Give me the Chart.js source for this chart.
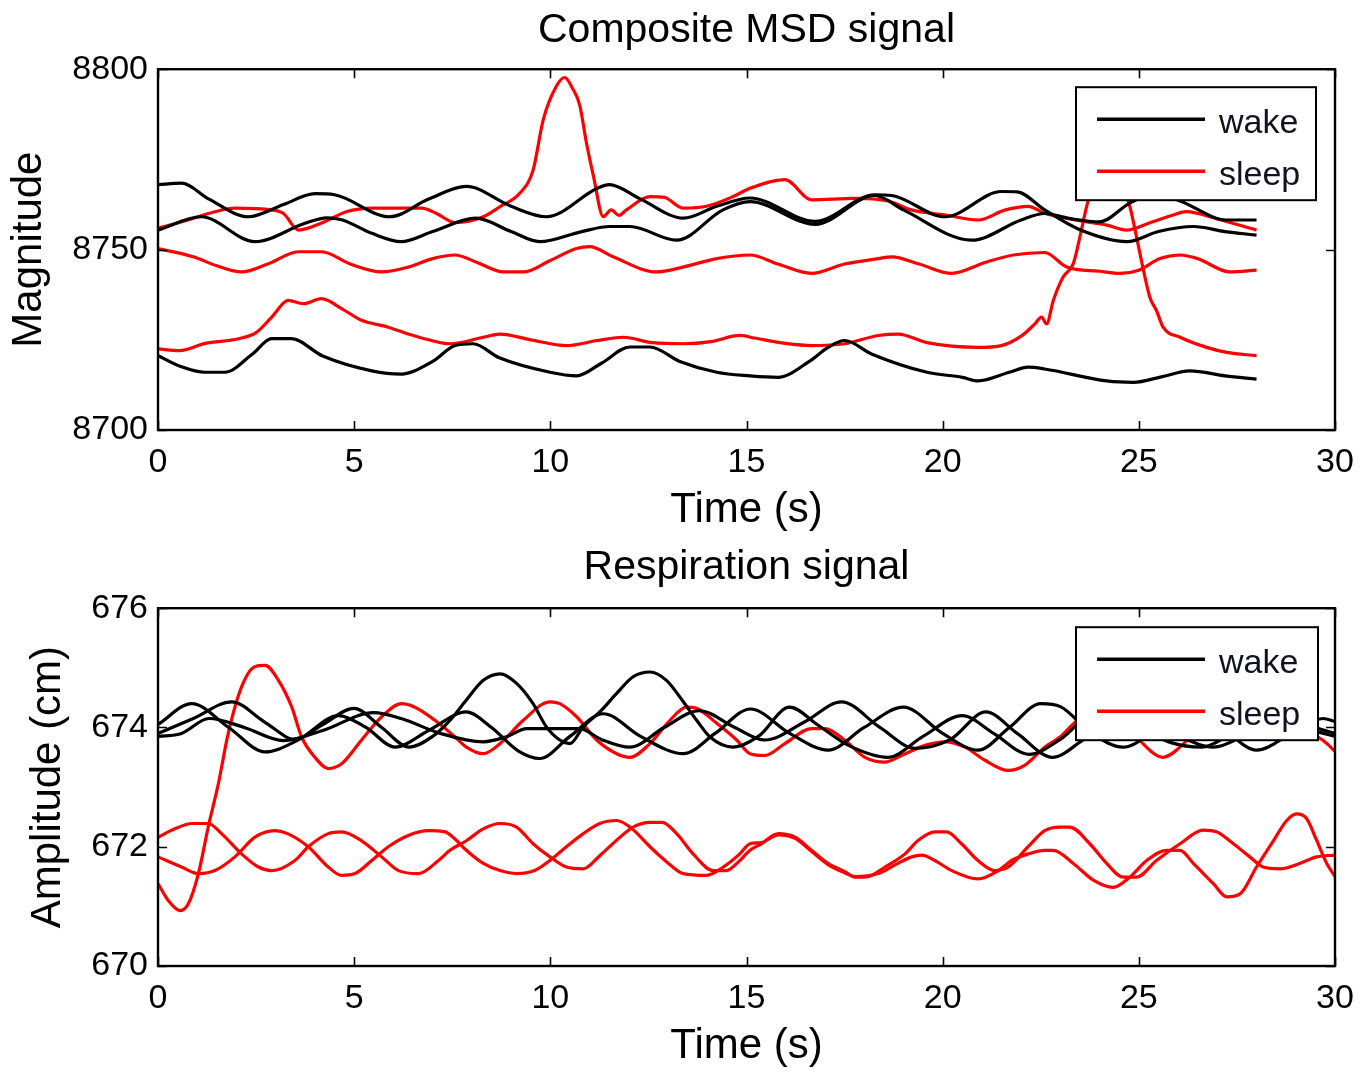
<!DOCTYPE html>
<html><head><meta charset="utf-8">
<script src="https://cdn.jsdelivr.net/npm/chart.js@4.4.1/dist/chart.umd.min.js"></script>
<style>
html,body{margin:0;padding:0;background:#fff;}
#wrap{position:relative;width:1371px;height:1076px;background:#fff;}
.box{position:absolute;left:0;width:1371px;}
</style></head><body>
<div id="wrap">
<div class="box" style="top:0;height:540px"><canvas id="c1" width="1371" height="540"></canvas></div>
<div class="box" style="top:540px;height:536px"><canvas id="c2" width="1371" height="536"></canvas></div>
</div>
<script>
// ---------- data ----------
const timeTicks = [0, 5, 10, 15, 20, 25, 30];
const msdTicks = [8700, 8750, 8800];
const respTicks = [670, 672, 674, 676];
const legendLabels = ['wake', 'sleep'];
const titles = ['Composite MSD signal', 'Respiration signal'];
const axisTitles = ['Time (s)', 'Magnitude', 'Amplitude (cm)'];

// Composite MSD signal: [time (s), magnitude]
const msdWake1 = [[0,8768],[0.6,8768.4],[1.3,8764],[2.3,8759.1],[3.2,8762.5],[4.0,8765.5],[4.5,8765.2],[5.9,8759.1],[6.9,8764],[7.86,8767.5],[9.0,8762],[9.9,8759.1],[11.2,8767],[11.5,8768],[12.3,8764],[13.39,8758.7],[14.24,8762],[15.09,8764.3],[16.75,8757.8],[18.27,8765.2],[18.7,8765],[20.06,8759.1],[21.5,8766.1],[21.9,8766],[22.6,8761],[23.5,8755.5],[24.7,8752.2],[25.5,8755],[26.39,8756.4],[27.2,8755],[28,8754]];
const msdWake2 = [[0,8755.4],[1.1,8759.1],[2.47,8752.2],[3.75,8757.3],[4.3,8758.8],[4.7,8758.2],[5.45,8754.5],[6.2,8752.2],[7.0,8755],[8.1,8758.7],[9.0,8755],[9.73,8752.2],[10.8,8755],[11.52,8756.4],[12.03,8756.4],[13.22,8752.6],[14.4,8761],[15.09,8763.3],[16.75,8757],[18.27,8765],[19.0,8761],[20.74,8752.6],[22.0,8758.2],[22.6,8760],[23.3,8758.5],[24.0,8757.7],[24.77,8762.9],[25.4,8765.5],[26.05,8763.5],[27.24,8758.2],[28,8758.2]];
const msdWake3 = [[0,8720.6],[0.6,8717.5],[1.2,8716],[1.7,8716],[2.4,8721],[2.9,8725.3],[3.4,8725.3],[4.2,8720.5],[5.45,8716.4],[6.2,8715.5],[7.0,8719],[7.57,8723.4],[8.03,8723.9],[8.7,8720],[9.99,8716],[10.67,8715],[11.3,8718.5],[12.03,8723],[12.54,8723],[13.3,8719],[14.24,8716],[15.09,8715],[15.8,8714.6],[16.6,8719],[17.08,8722.9],[17.5,8724.8],[18.2,8721],[19.6,8716],[20.5,8714.6],[20.9,8713.6],[21.7,8716],[22.18,8717.4],[22.6,8716.9],[24.18,8713.6],[24.86,8713.2],[25.6,8714.8],[26.3,8716.4],[27.2,8715],[28,8714.1]];
const msdSleep1 = [[0,8755.9],[0.7,8758],[1.45,8760.5],[1.96,8761.5],[2.9,8761],[3.2,8760],[3.58,8755.4],[4.2,8757.5],[4.8,8760.5],[5.45,8761.5],[6.72,8761.5],[7.1,8760],[7.57,8757.5],[8.29,8759.1],[8.72,8761.9],[9.22,8765.6],[9.56,8772],[9.82,8786],[10.16,8795.4],[10.37,8797.7],[10.55,8795],[10.75,8790],[10.92,8779.6],[11.1,8770.3],[11.35,8759.1],[11.55,8761],[11.75,8759.5],[11.94,8761],[12.54,8764.7],[12.9,8764.5],[13.39,8761.5],[13.98,8762],[14.66,8764.7],[15.09,8767],[15.98,8769.4],[16.66,8763.8],[17.76,8764.2],[18.6,8763.5],[19.2,8761],[20.06,8759.6],[20.9,8758.2],[21.6,8761],[22.18,8762],[22.6,8760.1],[23.5,8758],[24.18,8756.8],[24.69,8755.4],[25.3,8757.5],[25.88,8759.6],[26.2,8760.5],[27.0,8758.5],[28,8755.4]];
const msdSleep2 = [[0,8750.3],[0.9,8748],[1.5,8745.5],[2.13,8743.8],[2.8,8746],[3.58,8749.4],[4.17,8749.4],[4.9,8746],[5.7,8743.8],[6.4,8745.2],[7.0,8747.5],[7.57,8748.5],[8.12,8746.5],[8.8,8743.8],[9.31,8743.8],[10.0,8747],[10.67,8750.3],[11.0,8750.8],[11.6,8748],[12.7,8743.8],[13.4,8745.2],[14.24,8747.5],[15.09,8748.5],[15.8,8746],[16.66,8743.4],[17.5,8746],[18.36,8747.5],[18.7,8748],[19.4,8746],[20.23,8743.4],[21.1,8746.5],[21.8,8748.5],[22.6,8749.2],[23.16,8745.2],[24.0,8744],[24.52,8743.4],[25.0,8744.3],[25.54,8747.5],[26.05,8748.5],[26.5,8747.5],[27.32,8743.8],[28,8744.3]];
const msdSleep3 = [[0,8722.5],[0.55,8722],[1.2,8724],[2.05,8725.3],[2.5,8727],[2.9,8731.3],[3.32,8735.9],[3.7,8735],[4.17,8736.4],[4.7,8733.5],[5.19,8730.4],[5.87,8728.5],[6.38,8726.6],[6.9,8725],[7.44,8723.9],[8.29,8725.7],[8.72,8726.6],[9.5,8725],[10.41,8723.4],[11.2,8724.8],[11.86,8725.7],[12.6,8724.2],[13.39,8723.9],[14.1,8724.5],[14.83,8726.2],[15.2,8725.5],[16.0,8724],[16.66,8723.4],[17.5,8723.9],[18.36,8726.2],[18.87,8726.6],[19.6,8724.2],[20.9,8722.9],[21.5,8723.4],[22.0,8726],[22.35,8729.4],[22.52,8731.3],[22.65,8729.4],[22.82,8735.9],[23.07,8742.4],[23.33,8746.1],[23.5,8753.6],[23.67,8762],[23.9,8770],[24.2,8774],[24.5,8770],[24.77,8762],[24.94,8753.6],[25.1,8745.2],[25.28,8736.8],[25.45,8733.1],[25.62,8728.5],[26.05,8725.7],[26.73,8722.9],[27.24,8721.5],[28,8720.6]];

// Respiration signal: [time (s), amplitude (cm)]
const respWake1 = [[0,673.9],[0.9,674.15],[1.88,674.43],[2.7,674.1],[3.5,673.8],[4.2,674.05],[5.0,674.32],[5.7,674.0],[6.4,673.67],[7.0,673.85],[7.44,674.12],[7.86,674.46],[8.29,674.79],[8.72,674.9],[9.14,674.74],[9.56,674.4],[9.9,674.01],[10.24,673.79],[10.5,673.73],[10.84,674.01],[11.26,674.26],[11.69,674.57],[12.11,674.85],[12.54,674.93],[12.96,674.79],[13.39,674.43],[13.73,674.12],[14.07,673.84],[14.66,673.67],[15.3,673.85],[16.1,674.34],[16.8,674.05],[17.6,673.7],[18.6,673.5],[19.5,673.85],[20.5,674.2],[21.3,673.9],[22.2,673.55],[23.0,673.8],[24.0,674.3],[25.0,674.0],[25.8,673.75],[26.6,673.67],[27.4,673.9],[28.5,674.2],[29.2,674.0],[30,673.85]];
const respWake2 = [[0,674.05],[0.86,674.4],[1.8,674.0],[2.73,673.59],[3.6,673.8],[4.6,674.2],[5.3,674.0],[6.04,673.67],[6.9,673.95],[7.86,674.26],[8.5,674.0],[9.2,673.6],[9.73,673.48],[10.5,673.85],[11.35,674.23],[12.3,673.85],[13.39,673.56],[14.2,673.9],[15.1,674.31],[16.1,673.9],[17.08,673.62],[18.0,674.0],[19.0,674.34],[20.0,673.9],[20.9,673.62],[21.7,674.0],[22.5,674.4],[23.0,674.35],[23.8,673.9],[24.6,673.67],[25.5,674.0],[26.3,674.35],[27.2,673.95],[28.0,673.62],[28.9,673.9],[29.7,674.15],[30,674.1]];
const respWake3 = [[0,673.85],[0.6,673.9],[1.3,674.15],[2.2,674.0],[3.2,673.78],[4.2,673.95],[5.5,674.25],[6.2,674.15],[7.2,673.9],[8.29,673.76],[8.9,673.85],[9.4,673.98],[10.75,673.98],[11.3,673.8],[12.03,673.67],[12.9,674.0],[13.8,674.28],[14.7,674.0],[15.47,673.79],[16.5,674.1],[17.42,674.43],[18.4,674.0],[19.3,673.65],[20.2,673.8],[21.1,674.26],[21.9,673.9],[22.8,673.5],[23.6,673.8],[24.8,674.3],[25.9,673.9],[26.9,673.67],[27.8,673.9],[28.8,674.2],[29.5,674.0],[30,673.9]];
const respSleep1 = [[0,671.38],[0.26,671.1],[0.56,670.93],[0.77,671.04],[1.03,671.55],[1.28,672.33],[1.54,673.06],[1.79,673.9],[2.13,674.68],[2.47,675.02],[2.73,675.04],[3.07,674.79],[3.41,674.34],[3.66,673.84],[4.0,673.5],[4.34,673.31],[4.68,673.39],[5.19,673.79],[5.7,674.18],[6.21,674.4],[6.55,674.34],[7.06,674.12],[7.57,673.84],[7.86,673.67],[8.29,673.56],[8.72,673.73],[9.31,674.12],[9.99,674.43],[10.24,674.4],[10.67,674.18],[11.18,673.79],[11.69,673.56],[12.03,673.5],[12.54,673.73],[13.05,674.12],[13.47,674.34],[13.73,674.32],[14.24,674.07],[14.75,673.79],[15.09,673.56],[15.47,673.53],[15.98,673.73],[16.66,673.98],[17.0,673.98],[17.5,673.79],[18.02,673.5],[18.53,673.42],[18.95,673.53],[19.55,673.7],[20.06,673.76],[20.57,673.67],[21.08,673.45],[21.67,673.28],[22.1,673.37],[22.6,673.67],[22.99,673.84],[23.33,674.06],[23.9,674.35],[24.5,674.2],[25.0,673.8],[25.62,673.5],[26.1,673.7],[26.6,674.05],[27.4,674.3],[28.2,674.3],[29.0,674.05],[29.7,673.78],[30,673.6]];
const respSleep2 = [[0,672.16],[0.43,672.3],[0.86,672.39],[1.28,672.39],[1.62,672.22],[2.13,671.88],[2.56,671.66],[2.9,671.6],[3.49,671.77],[3.83,672.0],[4.34,672.22],[4.68,672.25],[5.19,672.1],[5.7,671.83],[6.13,671.6],[6.64,671.55],[7.15,671.77],[7.44,671.94],[7.86,672.1],[8.29,672.3],[8.72,672.39],[9.14,672.33],[9.56,672.05],[9.99,671.83],[10.41,671.66],[10.84,671.63],[11.26,671.85],[11.69,672.11],[12.11,672.33],[12.54,672.41],[12.85,672.41],[13.22,672.22],[13.64,671.88],[14.15,671.6],[14.49,671.6],[14.8,671.75],[15.09,671.94],[15.38,672.05],[15.81,672.22],[16.24,672.16],[16.66,671.94],[17.08,671.72],[17.51,671.58],[17.76,671.49],[18.1,671.5],[18.53,671.66],[19.04,671.88],[19.38,672.11],[19.8,672.25],[20.1,672.25],[20.48,672.05],[20.9,671.77],[21.33,671.6],[21.67,671.66],[22.18,672.0],[22.6,672.27],[22.99,672.33],[23.24,672.33],[23.75,672.05],[24.18,671.72],[24.6,671.49],[24.94,671.49],[25.45,671.77],[26.05,672.05],[26.64,672.28],[26.98,672.25],[27.41,672.05],[27.83,671.83],[28.17,671.66],[28.6,671.63],[29.1,671.72],[29.53,671.83],[30,671.86]];
const respSleep3 = [[0,671.83],[0.6,671.66],[1.03,671.55],[1.45,671.6],[1.96,671.83],[2.47,672.16],[2.98,672.27],[3.3,672.22],[3.83,672.0],[4.34,671.66],[4.68,671.52],[5.02,671.55],[5.45,671.77],[5.87,672.0],[6.38,672.19],[6.89,672.27],[7.32,672.25],[7.57,672.13],[7.86,671.94],[8.29,671.72],[8.72,671.6],[9.14,671.55],[9.6,671.6],[9.99,671.77],[10.41,672.0],[10.84,672.22],[11.26,672.39],[11.69,672.44],[12.03,672.33],[12.54,672.0],[12.96,671.75],[13.39,671.55],[13.98,671.52],[14.41,671.66],[14.83,671.88],[15.09,672.05],[15.38,672.07],[15.81,672.2],[16.24,672.14],[16.66,671.92],[17.08,671.7],[17.51,671.56],[17.76,671.5],[18.36,671.55],[18.8,671.7],[19.21,671.83],[19.47,671.86],[19.8,671.77],[20.23,671.6],[20.9,671.46],[21.42,671.6],[21.76,671.77],[22.18,671.88],[22.6,671.94],[22.82,671.94],[23.33,671.72],[23.84,671.44],[24.35,671.32],[24.77,671.49],[25.2,671.77],[25.71,671.94],[26.05,671.94],[26.39,671.72],[26.9,671.38],[27.24,671.16],[27.58,671.21],[28.0,671.66],[28.43,672.1],[28.77,672.44],[29.02,672.55],[29.28,672.47],[29.53,672.11],[29.79,671.72],[30,671.5]];

// ---------- rendering ----------
const FONT = "'Liberation Sans', Arial, Helvetica, sans-serif";
const WAKE = '#000000', SLEEP = '#ff0000';
const toXY = arr => arr.map(p => ({x: p[0], y: p[1]}));

function mkDs(label, arr, color) {
  return {label, data: toXY(arr), borderColor: color, backgroundColor: color,
    borderWidth: 3.2, pointRadius: 0, fill: false, cubicInterpolationMode: 'monotone'};
}

const frameTicks = {
  id: 'frameTicks',
  afterDatasetsDraw(chart, args, opts) {
    const {ctx, chartArea: a, scales: {x, y}} = chart;
    ctx.save();
    ctx.strokeStyle = '#000';
    ctx.lineWidth = 1.6;
    const L = 9;
    ctx.beginPath();
    x.ticks.forEach(t => {
      const p = Math.round(x.getPixelForValue(t.value)) + 0.5;
      ctx.moveTo(p, a.bottom); ctx.lineTo(p, a.bottom - L);
      ctx.moveTo(p, a.top); ctx.lineTo(p, a.top + L);
    });
    y.ticks.forEach(t => {
      const p = Math.round(y.getPixelForValue(t.value)) + 0.5;
      ctx.moveTo(a.left, p); ctx.lineTo(a.left + L, p);
      ctx.moveTo(a.right, p); ctx.lineTo(a.right - L, p);
    });
    ctx.stroke();
    ctx.lineWidth = 2.4;
    ctx.strokeRect(a.left, a.top, a.right - a.left, a.bottom - a.top);
    // legend box
    const bx = a.right - opts.dx, by = a.top + opts.dy, bw = opts.w, bh = opts.h;
    ctx.fillStyle = '#fff';
    ctx.fillRect(bx, by, bw, bh);
    ctx.lineWidth = 2;
    ctx.strokeRect(bx, by, bw, bh);
    const colors = [WAKE, SLEEP];
    legendLabels.forEach((lab, i) => {
      const ly = by + 32 + i * 52;
      ctx.strokeStyle = colors[i];
      ctx.lineWidth = 3.4;
      ctx.beginPath(); ctx.moveTo(bx + 21, ly); ctx.lineTo(bx + 129, ly); ctx.stroke();
      ctx.fillStyle = '#111122';
      ctx.font = '34px ' + FONT;
      ctx.textBaseline = 'middle';
      ctx.textAlign = 'left';
      ctx.fillText(lab, bx + 143, ly + 4);
    });
    ctx.restore();
  }
};

function mkChart(id, datasets, yMin, yMax, yTicks, titleText, yTitle, yTitlePad, titlePad, legendOpts) {
  return new Chart(document.getElementById(id), {
    type: 'line',
    data: {datasets},
    plugins: [frameTicks],
    options: {
      responsive: false, animation: false, devicePixelRatio: 1,
      layout: {padding: {left: 0, right: 36, top: 0, bottom: 0}},
      plugins: {
        legend: {display: false}, tooltip: {enabled: false},
        title: {display: true, text: titleText, fullSize: false, color: '#000',
          font: {family: FONT, size: 41, weight: 'normal'}, padding: titlePad},
        frameTicks: legendOpts
      },
      scales: {
        x: {type: 'linear', min: 0, max: 30,
          afterBuildTicks: s => { s.ticks = timeTicks.map(v => ({value: v})); },
          afterFit: s => { s.height = 110; },
          grid: {display: false, drawTicks: false}, border: {display: false},
          ticks: {color: '#000', padding: 12, maxRotation: 0, autoSkip: false,
            callback: v => String(v), font: {family: FONT, size: 34}},
          title: {display: true, text: axisTitles[0], color: '#000', padding: {top: 4, bottom: 4},
            font: {family: FONT, size: 42}}
        },
        y: {type: 'linear', min: yMin, max: yMax,
          afterBuildTicks: s => { s.ticks = yTicks.map(v => ({value: v})); },
          afterFit: s => { s.width = 158; },
          grid: {display: false, drawTicks: false}, border: {display: false},
          ticks: {color: '#000', padding: 10, autoSkip: false,
            callback: v => String(v), font: {family: FONT, size: 34}},
          title: {display: true, text: yTitle, color: '#000', padding: {top: yTitlePad, bottom: 4},
            font: {family: FONT, size: 42}}
        }
      }
    }
  });
}

mkChart('c1', [
  mkDs('wake', msdWake1, WAKE), mkDs('wake', msdWake2, WAKE), mkDs('wake', msdWake3, WAKE),
  mkDs('sleep', msdSleep1, SLEEP), mkDs('sleep', msdSleep2, SLEEP), mkDs('sleep', msdSleep3, SLEEP)
], 8700, 8800, msdTicks, titles[0], axisTitles[1], 4, {top: 6, bottom: 14},
  {dx: 259, dy: 18, w: 240, h: 113});

mkChart('c2', [
  mkDs('wake', respWake1, WAKE), mkDs('wake', respWake2, WAKE), mkDs('wake', respWake3, WAKE),
  mkDs('sleep', respSleep1, SLEEP), mkDs('sleep', respSleep2, SLEEP), mkDs('sleep', respSleep3, SLEEP)
], 670, 676, respTicks, titles[1], axisTitles[2], 23, {top: 3, bottom: 16},
  {dx: 259, dy: 19, w: 242, h: 113});
</script>
</body></html>
